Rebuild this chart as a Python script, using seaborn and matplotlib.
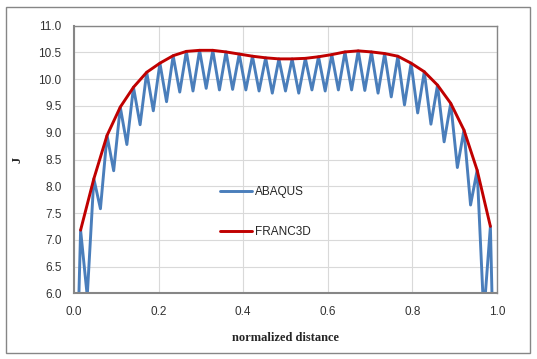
import pandas as pd
import seaborn as sns
import matplotlib
matplotlib.use("Agg")
import matplotlib.pyplot as plt
from matplotlib.patches import Rectangle

# normalized distance of the nodes (blue) and of the FRANC3D points (red)
abaqus_x = [0.0, 0.0156, 0.0313, 0.0469, 0.0625, 0.0781, 0.0938, 0.1094, 0.125, 0.1406,
            0.1563, 0.1719, 0.1875, 0.2031, 0.2188, 0.2344, 0.25, 0.2656, 0.2813, 0.2969,
            0.3125, 0.3281, 0.3438, 0.3594, 0.375, 0.3906, 0.4063, 0.4219, 0.4375, 0.4531,
            0.4688, 0.4844, 0.5, 0.5156, 0.5313, 0.5469, 0.5625, 0.5781, 0.5938, 0.6094,
            0.625, 0.6406, 0.6563, 0.6719, 0.6875, 0.7031, 0.7188, 0.7344, 0.75, 0.7656,
            0.7813, 0.7969, 0.8125, 0.8281, 0.8438, 0.8594, 0.875, 0.8906, 0.9063, 0.9219,
            0.9375, 0.9531, 0.9688, 0.9844, 1.0]
abaqus_j = [2.5, 7.18, 5.95, 8.14, 7.58, 8.95, 8.29, 9.48, 8.78, 9.85,
            9.15, 10.13, 9.41, 10.30, 9.58, 10.44, 9.76, 10.52, 9.78, 10.54,
            9.83, 10.54, 9.80, 10.51, 9.81, 10.47, 9.80, 10.43, 9.78, 10.40,
            9.74, 10.38, 9.78, 10.38, 9.74, 10.39, 9.80, 10.42, 9.78, 10.46,
            9.80, 10.51, 9.80, 10.53, 9.79, 10.51, 9.74, 10.48, 9.67, 10.43,
            9.52, 10.30, 9.37, 10.14, 9.16, 9.89, 8.83, 9.55, 8.35, 9.05,
            7.65, 8.30, 5.6, 7.25, 2.0]

franc_x = [0.0156, 0.0469, 0.0781, 0.1094, 0.1406, 0.1719, 0.2031, 0.2344,
           0.2656, 0.2969, 0.3281, 0.3594, 0.3906, 0.4219, 0.4531, 0.4844,
           0.5156, 0.5469, 0.5781, 0.6094, 0.6406, 0.6719, 0.7031, 0.7344,
           0.7656, 0.7969, 0.8281, 0.8594, 0.8906, 0.9219, 0.9531, 0.9844]
franc_j = [7.18, 8.14, 8.95, 9.48, 9.85, 10.13, 10.30, 10.44,
           10.52, 10.54, 10.54, 10.51, 10.47, 10.43, 10.40, 10.38,
           10.38, 10.39, 10.42, 10.46, 10.51, 10.53, 10.51, 10.48,
           10.43, 10.30, 10.14, 9.89, 9.55, 9.05, 8.30, 7.25]

x_ticks = [0.0, 0.2, 0.4, 0.6, 0.8, 1.0]
y_ticks = [6.0, 6.5, 7.0, 7.5, 8.0, 8.5, 9.0, 9.5, 10.0, 10.5, 11.0]

sns.set_style("whitegrid")
plt.rcParams['font.family'] = ['Liberation Sans', 'DejaVu Sans']

fig = plt.figure(figsize=(5.37, 3.59), dpi=100)
ax = fig.add_axes([0.1378, 0.183, 0.7877, 0.7454])

abaqus_df = pd.DataFrame({"x": abaqus_x, "J": abaqus_j})
franc_df = pd.DataFrame({"x": franc_x, "J": franc_j})
sns.lineplot(data=abaqus_df, x="x", y="J", ax=ax, color="#4a7ebb", linewidth=2.1,
             label="ABAQUS", sort=False, estimator=None)
sns.lineplot(data=franc_df, x="x", y="J", ax=ax, color="#c00000", linewidth=2.1,
             label="FRANC3D", sort=False, estimator=None)

ax.set_xlim(0, 1)
ax.set_ylim(6, 11)
ax.set_xticks(x_ticks)
ax.set_yticks(y_ticks)
ax.set_xticklabels([f"{t:.1f}" for t in x_ticks])
ax.set_yticklabels([f"{t:.1f}" for t in y_ticks])
ax.tick_params(axis="both", labelsize=8.5, colors="#333333", length=4, width=0.8,
               direction="out", pad=5)
ax.tick_params(axis="both", color="#868686")
ax.grid(True, color="#d9d9d9", linewidth=0.8)
for s in ax.spines.values():
    s.set_color("#868686")
    s.set_linewidth(1.0)
ax.spines["left"].set_linewidth(1.5)
ax.spines["bottom"].set_linewidth(1.5)

ax.set_xlabel("normalized distance", family="Liberation Serif", fontweight="bold",
              fontsize=9, labelpad=10)
ax.set_ylabel("J", family="Liberation Serif", fontweight="bold", fontsize=9, labelpad=11)

ax.legend(loc="upper left", bbox_to_anchor=(0.335, 0.42), frameon=False, fontsize=8.5,
          handlelength=2.7, handletextpad=0.2, labelspacing=2.4, borderaxespad=0)

# chart area border
fig.patches.append(Rectangle((0.011, 0.017), 0.976, 0.963, transform=fig.transFigure,
                             fill=False, edgecolor="#868686", linewidth=1.0))

fig.savefig("out.png", dpi=100)
